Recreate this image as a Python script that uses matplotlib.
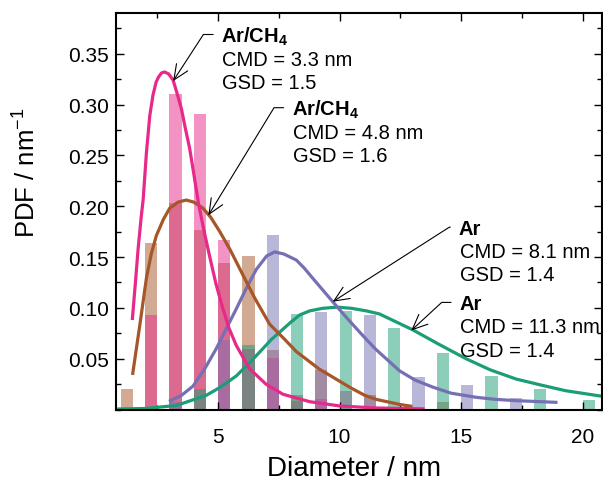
import matplotlib
matplotlib.use("Agg")
import matplotlib.pyplot as plt
from matplotlib.ticker import MultipleLocator

plt.rcParams['font.family'] = ['Liberation Sans', 'DejaVu Sans']
plt.rcParams['mathtext.fontset'] = 'custom'
plt.rcParams['mathtext.rm'] = 'Liberation Sans'
plt.rcParams['mathtext.it'] = 'Liberation Sans:italic'
plt.rcParams['mathtext.bf'] = 'Liberation Sans:bold'

# histogram bars (left edge of each bin in nm, bin height in 1/nm)
pink_bin = [2, 3, 4, 5, 6, 7, 8, 9, 10]
pink_pdf = [0.093, 0.310, 0.291, 0.167, 0.060, 0.051, 0.008, 0.010, 0.018]
brown_bin = [1, 2, 3, 4, 5, 6, 7, 8, 9, 11, 14]
brown_pdf = [0.020, 0.164, 0.203, 0.177, 0.144, 0.151, 0.059, 0.014, 0.039, 0.014, 0.007]
purple_bin = [3, 5, 7, 9, 11, 13, 15, 17]
purple_pdf = [0.007, 0.068, 0.172, 0.096, 0.093, 0.032, 0.024, 0.011]
green_bin = [4, 6, 8, 10, 12, 14, 16, 18, 20]
green_pdf = [0.020, 0.063, 0.094, 0.097, 0.080, 0.056, 0.033, 0.020, 0.009]

# fitted lognormal curves
pink_d = [1.47, 1.6, 1.71, 1.84, 1.92, 2.05, 2.19, 2.32, 2.45, 2.55, 2.67, 2.8, 2.97, 3.15,
          3.3, 3.49, 3.65, 3.83, 4.0, 4.2, 4.42, 4.66, 4.92, 5.2, 5.45, 5.75, 6.3, 6.97, 7.67,
          8.77, 10.0, 11.5, 13.5]
pink_f = [0.088, 0.125, 0.158, 0.190, 0.207, 0.252, 0.289, 0.309, 0.322, 0.327, 0.331, 0.332,
          0.330, 0.324, 0.312, 0.296, 0.277, 0.257, 0.232, 0.202, 0.176, 0.150, 0.123, 0.099,
          0.080, 0.063, 0.040, 0.025, 0.015, 0.0077, 0.0035, 0.0015, 0.0006]
brown_d = [1.48, 1.78, 2.05, 2.25, 2.46, 2.75, 3.01, 3.35, 3.69, 4.0, 4.38, 4.7, 5.07, 5.5,
           6.03, 6.5, 7.12, 7.74, 8.22, 9.15, 10.41, 11.03, 11.5, 12.47, 13.0]
brown_f = [0.034, 0.083, 0.129, 0.153, 0.171, 0.187, 0.198, 0.204, 0.206, 0.204, 0.198, 0.189,
           0.175, 0.157, 0.132, 0.110, 0.084, 0.069, 0.057, 0.040, 0.022, 0.014, 0.010, 0.005,
           0.003]
purple_d = [2.98, 3.5, 3.97, 4.45, 4.93, 5.35, 5.75, 6.2, 6.58, 7.0, 7.33, 7.7, 8.22, 8.55, 8.9,
            9.72, 10.3, 11.1, 11.5, 12.47, 13.1, 13.84, 14.6, 15.62, 16.4, 17.26, 18.97]
purple_f = [0.008, 0.014, 0.023, 0.040, 0.060, 0.080, 0.099, 0.121, 0.138, 0.151, 0.155, 0.153,
            0.147, 0.139, 0.129, 0.106, 0.090, 0.069, 0.059, 0.038, 0.029, 0.022, 0.016, 0.012,
            0.010, 0.0087, 0.007]
green_d = [0.85, 2.0, 3.29, 4.52, 5.1, 5.75, 6.3, 6.85, 7.2, 7.53, 8.0, 8.36, 8.77, 9.3, 9.9,
           10.5, 11.1, 11.64, 13.0, 14.1, 15.2, 16.2, 17.26, 18.3, 19.3, 20.8]
green_f = [0.0005, 0.001, 0.004, 0.014, 0.022, 0.033, 0.046, 0.060, 0.069, 0.076, 0.086, 0.093,
           0.097, 0.0995, 0.1007, 0.0995, 0.097, 0.094, 0.0785, 0.064, 0.050, 0.039, 0.030,
           0.024, 0.0185, 0.013]

c_pink = '#E7298A'
c_brown = '#A65628'
c_purple = '#7570B3'
c_green = '#1B9E77'

fig = plt.figure(figsize=(6.03, 4.81), dpi=100)
ax = fig.add_axes([116 / 603, 70.5 / 481, 486 / 603, 396.5 / 481])

# bars
ax.bar(brown_bin, brown_pdf, width=0.5, align='edge', color=c_brown, alpha=0.5, lw=0)
ax.bar(pink_bin, pink_pdf, width=0.5, align='edge', color=c_pink, alpha=0.5, lw=0)
ax.bar(purple_bin, purple_pdf, width=0.5, align='edge', color=c_purple, alpha=0.5, lw=0)
ax.bar(green_bin, green_pdf, width=0.5, align='edge', color=c_green, alpha=0.5, lw=0)

# fits
for d, f, c in [(green_d, green_f, c_green), (purple_d, purple_f, c_purple),
                (brown_d, brown_f, c_brown), (pink_d, pink_f, c_pink)]:
    ax.plot(d, f, color=c, lw=2.3, solid_capstyle='butt', solid_joinstyle='round')

# annotations: header, body lines, header position, arrow tip, leader angle
notes = [
    (r'Ar/CH$_\mathbf{4}$', ['CMD = 3.3 nm', 'GSD = 1.5'], (5.14, 0.362), (3.15, 0.323), 57),
    (r'Ar/CH$_\mathbf{4}$', ['CMD = 4.8 nm', 'GSD = 1.6'], (8.04, 0.290), (4.6, 0.191), 58.6),
    ('Ar', ['CMD = 8.1 nm', 'GSD = 1.4'], (14.90, 0.173), (9.72, 0.106), 32.6),
    ('Ar', ['CMD = 11.3 nm', 'GSD = 1.4'], (14.93, 0.099), (12.95, 0.0777), 42.7),
]
for head, body, pos, tip, ang in notes:
    ax.annotate(head, xy=tip, xytext=pos, fontsize=14.5, fontweight='bold',
                ha='left', va='baseline',
                arrowprops=dict(arrowstyle='->,head_length=0.75,head_width=0.33', lw=0.8,
                                color='k', shrinkA=4, shrinkB=0, relpos=(0, 0.55),
                                connectionstyle=f'angle,angleA=0,angleB={ang},rad=0'))
    for i, line in enumerate(body):
        ax.annotate(line, xy=pos, xytext=(0.7, -16.8 * (i + 1)), textcoords='offset points',
                    fontsize=14.5, ha='left', va='baseline')

ax.set_xlim(0.8, 20.8)
ax.set_ylim(0, 0.39)
ax.xaxis.set_major_locator(MultipleLocator(5))
ax.xaxis.set_minor_locator(MultipleLocator(2.5))
ax.set_yticks([0.05, 0.10, 0.15, 0.20, 0.25, 0.30, 0.35])
ax.yaxis.set_minor_locator(MultipleLocator(0.025))
ax.tick_params(which='both', direction='in', top=True, right=True, width=1.0, labelsize=15)
ax.tick_params(which='major', length=5.5)
ax.tick_params(which='minor', length=3.5)
ax.tick_params(axis='x', pad=12.5)
ax.tick_params(axis='y', pad=5)
for s in ax.spines.values():
    s.set_linewidth(1.5)

ax.set_xlabel('Diameter / nm', fontsize=20)
ax.set_ylabel('PDF / nm$^{-1}$', fontsize=18.5)
ax.xaxis.set_label_coords(0.49, -0.115)
ax.yaxis.set_label_coords(-0.155, 0.6)

fig.savefig('out.png', dpi=100)
